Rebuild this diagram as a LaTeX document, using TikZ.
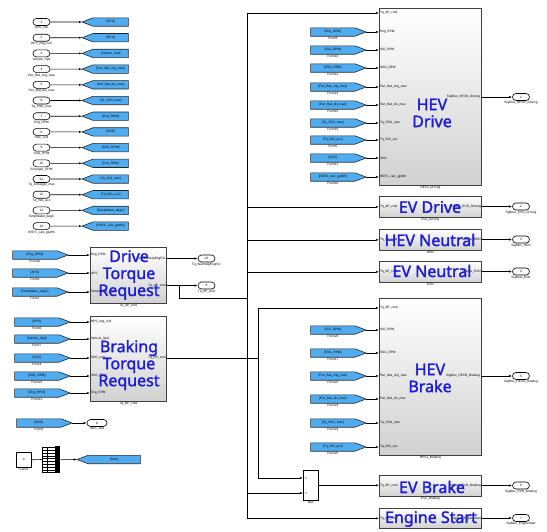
\documentclass[tikz,border=0pt]{standalone}
\usepackage{fontspec}
\setsansfont{Liberation Sans}
\newfontfamily\bigfont[FakeBold=1.6]{Noto Sans}
\usetikzlibrary{shapes.misc,arrows.meta}
\pgfdeclarelayer{background}
\pgfsetlayers{background,main}
\definecolor{tagblue}{RGB}{80,172,240}
\definecolor{lblblue}{RGB}{28,28,215}
\tikzset{
 tinytxt/.style={font=\sffamily\fontsize{3.2}{3.6}\selectfont},
 port/.style={rounded rectangle, draw=black, fill=white, line width=0.6pt, minimum width=17pt, minimum height=7pt, inner sep=0pt, tinytxt},
 tagbody/.style={rectangle, inner sep=0pt, minimum height=8pt, minimum width=44pt, tinytxt},
 tagdraw/.style={draw=black!85, fill=tagblue, line width=0.6pt, line join=miter},
 sub/.style={draw=black!75, line width=0.8pt, top color=white, bottom color=black!18, inner sep=0pt},
 sig/.style={line width=0.6pt, -{Latex[length=3pt,width=2.2pt]}},
 wire/.style={line width=0.6pt},
 biglbl/.style={font=\bigfont\fontsize{16}{17}\selectfont, text=lblblue, align=center},
 undertxt/.style={tinytxt, below, inner sep=0.6pt},
 plbl/.style={tinytxt, anchor=west, inner sep=0.8pt},
 prlbl/.style={tinytxt, anchor=east, inner sep=0.8pt},
}
% outline of a From tag (tip to the right) and a Goto tag (tip to the left)
\newcommand\fromtagshape[1]{\begin{pgfonlayer}{background}\draw[tagdraw] (#1.north west) -- (#1.north east) -- ([xshift=11pt]#1.east) -- (#1.south east) -- (#1.south west) -- cycle;\end{pgfonlayer}}
\newcommand\gototagshape[1]{\begin{pgfonlayer}{background}\draw[tagdraw] (#1.north east) -- (#1.north west) -- ([xshift=-11pt]#1.west) -- (#1.south west) -- (#1.south east) -- cycle;\end{pgfonlayer}}
\begin{document}
\begin{tikzpicture}[x=1pt,y=-1pt]
\useasboundingbox (0,0) rectangle (547,531);

% ---------- left column: inports to goto tags
\foreach \i/\nm/\tg in {1/APS\_null/[APS], 2/BPS\_neg\_null/[BPS], 3/Vehicle\_Spd/[Vehicle\_Spd], 4/Pwr\_Bat\_chg\_max/[Pwr\_Bat\_chg\_max], 5/Pwr\_Bat\_dis\_max/[Pwr\_Bat\_dis\_max], 6/Tq\_SSG\_max/[Tq\_SSG\_max], 7/Eng\_RPM/[Eng\_RPM], 8/SOC\_null/[SOC], 9/SSG\_RPM/[SSG\_RPM], 10/Echarger\_RPM/[ISG\_RPM], 11/Tq\_Echarger\_max/[Tq\_ISG\_max], 12/Tq\_ISG\_acc/[Tq\_ISG\_acc], 13/TempWater\_degC/[TempWater\_degC], 14/BSFC\_calc\_gpWh/[BSFC\_calc\_gpWh]} {
  \pgfmathsetmacro\yy{22+(\i-1)*15.7}
  \node[port] (in\i) at (41.5,\yy) {\i};
  \node[undertxt] at (in\i.south) {\nm};
  \node[tagbody, minimum width=35pt, anchor=west] (gt\i) at (93,\yy) {\tg};
  \gototagshape{gt\i}
  \draw[sig] (in\i) -- ([xshift=-11pt]gt\i.west);
}

% ---------- Drive Torque Request
\node[sub, minimum width=76pt, minimum height=56pt, anchor=north west] (dtr) at (90,247) {};
\node[undertxt] at (dtr.south) {Tq\_dP\_cmd};
\foreach \yy/\pl/\tg/\fn [count=\k] in {255/Eng\_RPM/[Eng\_RPM]/From20, 273/APS/[APS]/From9, 292/TempWater\_degC/[TempWater\_degC]/From1} {
  \node[tagbody, anchor=east] (fd\k) at (57,\yy) {\tg};
  \fromtagshape{fd\k}
  \node[undertxt] at (fd\k.south) {\fn};
  \draw[sig] ([xshift=11pt]fd\k.east) -- (fd\k -| dtr.west);
  \node[plbl] at (fd\k -| dtr.west) {\pl};
}
\node[port] (o10) at (206.5,258.5) {10};
\node[undertxt] at (o10.south) {Tq\_WarmUpEngFric};
\node[port] (o9) at (206.5,285.5) {9};
\node[undertxt] at (o9.south) {Tq\_dP\_cmd};
\node[prlbl] at (o10 -| dtr.east) {Tq\_WarmUpEngFric};
\node[prlbl] at (o9 -| dtr.east) {Tq\_dP\_cmd};
\draw[sig] (o10 -| dtr.east) -- (o10);
\draw[sig] (o9 -| dtr.east) -- (o9);
\coordinate (j1) at (179,285.5);
\coordinate (busTop) at (247,13);
\draw[wire] (j1) |- (busTop |- 0,298);

% ---------- Braking Torque Request
\node[sub, minimum width=76pt, minimum height=85pt, anchor=north west] (btr) at (90,316) {};
\node[undertxt] at (btr.south) {Tq\_BP\_cmd};
\foreach \yy/\pl/\tg/\fn [count=\k] in {322/BPS\_neg\_null/[BPS]/From6, 339/Vehicle\_Spd/[Vehicle\_Spd]/From7, 358/SOC\_null/[SOC]/From4, 376/SSG\_RPM/[SSG\_RPM]/From21, 393/Eng\_RPM/[Eng\_RPM]/From13} {
  \node[tagbody, anchor=east] (fb\k) at (59,\yy) {\tg};
  \fromtagshape{fb\k}
  \node[undertxt] at (fb\k.south) {\fn};
  \draw[sig] ([xshift=11pt]fb\k.east) -- (fb\k -| btr.west);
  \node[plbl] at (fb\k -| btr.west) {\pl};
}
\coordinate (bj) at (258,358);
\node[prlbl] at (bj -| btr.east) {Tq\_BP\_cmd};
\draw[wire] (bj -| btr.east) -- (bj);

% ---------- SOC out and Const / Mux
\node[tagbody, anchor=east] (fsoc) at (61,423) {[SOC]};
\fromtagshape{fsoc}
\node[undertxt] at (fsoc.south) {From3};
\node[port, minimum width=20pt] (o8) at (97,423) {8};
\node[undertxt] at (o8.south) {SOC\_Out};
\draw[sig] ([xshift=11pt]fsoc.east) -- (o8);

\node[draw, fill=white, line width=0.6pt, minimum size=15pt, inner sep=0pt, anchor=north west, tinytxt] (const) at (16,452) {0};
\node[undertxt] at (const.south) {Const};
\node[fill=black, minimum width=5pt, minimum height=27pt, inner sep=0pt, anchor=north west] (cbus) at (55,446) {};
\foreach \k in {0,...,9} \draw[line width=0.5pt] (42,447.5+\k*2.8) -- (55,447.5+\k*2.8);
\draw[line width=0.5pt] (42,447) -- (42,473) (47,447) -- (47,473);
\coordinate (combL) at (42,459.5);
\draw[wire] (const.east) -- (combL);
\node[tagbody, minimum width=52pt, anchor=west] (gtmux) at (88,459.5) {[Mux]};
\gototagshape{gtmux}
\draw[sig] (cbus) -- ([xshift=-11pt]gtmux.west);

% ---------- right-hand subsystems
\node[sub, minimum width=102pt, minimum height=177pt, anchor=north west] (hevd) at (379,8) {};
\node[undertxt] at (hevd.south) {HEVs\_Driving};
\node[sub, minimum width=102pt, minimum height=21pt, anchor=north west] (evd) at (379,196) {};
\node[undertxt] at (evd.south) {EVs\_Driving};
\node[sub, minimum width=102pt, minimum height=21pt, anchor=north west] (hevn) at (379,229) {};
\node[undertxt] at (hevn.south) {HEN};
\node[sub, minimum width=102pt, minimum height=21pt, anchor=north west] (evn) at (379,261) {};
\node[undertxt] at (evn.south) {EVN};
\node[sub, minimum width=102pt, minimum height=157pt, anchor=north west] (hevb) at (379,298) {};
\node[undertxt] at (hevb.south) {HEVs\_Braking};
\node[sub, minimum width=102pt, minimum height=21pt, anchor=north west] (evb) at (379,475) {};
\node[undertxt] at (evb.south) {EVs\_Braking};
\node[sub, minimum width=102pt, minimum height=20pt, anchor=north west] (es) at (379,508) {};

% HEV Drive inputs
\node[plbl] at (busTop -| hevd.west) {Tq\_dP\_cmd};
\foreach \yy/\pl/\tg/\fn [count=\k] in {32/Eng\_RPM/[Eng\_RPM]/From8, 50/ISG\_RPM/[ISG\_RPM]/From10, 68/SSG\_RPM/[SSG\_RPM]/From12, 87/Pwr\_Bat\_chg\_max/[Pwr\_Bat\_chg\_max]/From14, 105/Pwr\_Bat\_dis\_max/[Pwr\_Bat\_dis\_max]/From15, 123/Tq\_SSG\_max/[Tq\_SSG\_max]/From16, 140/Tq\_ISG\_acc/[Tq\_ISG\_acc]/From5, 158/SOC/[SOC]/From11, 177/BSFC\_calc\_gpWh/[BSFC\_calc\_gpWh]/From18} {
  \node[tagbody, anchor=east] (fh\k) at (355,\yy) {\tg};
  \fromtagshape{fh\k}
  \node[undertxt] at (fh\k.south) {\fn};
  \draw[sig] ([xshift=11pt]fh\k.east) -- (fh\k -| hevd.west);
  \node[plbl] at (fh\k -| hevd.west) {\pl};
}
% HEV Brake inputs
\coordinate (hb1) at (379,308);
\node[plbl] at (hb1) {Tq\_BP\_cmd};
\foreach \yy/\pl/\tg/\fn [count=\k] in {330/ISG\_RPM/[ISG\_RPM]/From20, 353/SSG\_RPM/[SSG\_RPM]/From17, 376/Pwr\_Bat\_chg\_max/[Pwr\_Bat\_chg\_max]/From22, 399/Pwr\_Bat\_dis\_max/[Pwr\_Bat\_dis\_max]/From23, 423/Tq\_SSG\_max/[Tq\_SSG\_max]/From24, 447/Tq\_ISG\_acc/[Tq\_ISG\_acc]/From25} {
  \node[tagbody, anchor=east] (fr\k) at (355,\yy) {\tg};
  \fromtagshape{fr\k}
  \node[undertxt] at (fr\k.south) {\fn};
  \draw[sig] ([xshift=11pt]fr\k.east) -- (fr\k -| hevb.west);
  \node[plbl] at (fr\k -| hevb.west) {\pl};
}

% main bus from Tq_dP_cmd
\draw[sig] (busTop |- es.west) -- (busTop) -- (busTop -| hevd.west);
\draw[sig] (busTop |- es.west) -- (es.west);
\draw[sig] (busTop |- evd.west) -- (evd.west);
\draw[sig] (busTop |- hevn.west) -- (hevn.west);
\draw[sig] (busTop |- evn.west) -- (evn.west);

% Mux
\node[draw, fill=white, line width=0.6pt, minimum width=15pt, minimum height=30pt, inner sep=0pt, anchor=north west] (mux) at (303,470) {};
\node[undertxt] at (mux.south) {Mux};
\coordinate (mi1) at (303,478);
\coordinate (mi2) at (303,493);
\fill (306,478) circle (0.6) (306,493) circle (0.6);
\draw[sig] (busTop |- mi2) -- (mi2);
\draw[sig] (bj) |- (hb1);
\draw[sig] (bj) |- (mi1);
\draw[sig] (mux.east) -- (mux.east -| evb.west);

% small port labels inside single-row blocks
\node[plbl] at (evd.west) {Tq\_dP\_cmd};
\node[prlbl] at (evd.east) {SigMux\_EVD\_Driving};
\node[plbl] at (hevn.west) {Tq\_dP\_cmd};
\node[prlbl] at (hevn.east) {SigMux\_HEN};
\node[plbl] at (evn.west) {Tq\_dP\_cmd};
\node[prlbl] at (evn.east) {SigMux\_EVN};
\node[plbl] at (evb.west) {Tq\_BP\_cmd};
\node[prlbl] at (evb.east) {SigMux\_EVD\_Braking};
\node[plbl] at (es.west) {Tq\_dP\_cmd};
\node[prlbl] at (es.east) {SigMux\_EngineStart};

% outports on the right
\coordinate (hdo) at (481,97);
\coordinate (hbo) at (481,376);
\node[prlbl] at (hdo) {SigMux\_HEVD\_Driving};
\node[prlbl] at (hbo) {SigMux\_HEVD\_Braking};
\node[port] (r1) at (521,97) {1};
\node[port] (r2) at (521,206.5) {2};
\node[port] (r3) at (521,239.5) {3};
\node[port] (r4) at (521,271.5) {4};
\node[port] (r5) at (521,376) {5};
\node[port] (r6) at (521,485.5) {6};
\node[port] (r7) at (521,518) {7};
\node[undertxt] at (r1.south) {SigMux\_HEVD\_Driving};
\node[undertxt] at (r2.south) {SigMux\_EVD\_Driving};
\node[undertxt] at (r3.south) {SigMux\_HEN};
\node[undertxt] at (r4.south) {SigMux\_EVN};
\node[undertxt] at (r5.south) {SigMux\_HEVD\_Braking};
\node[undertxt] at (r6.south) {SigMux\_EVD\_Braking};
\node[undertxt] at (r7.south) {SigMux\_EngineStart};
\draw[sig] (hdo) -- (r1);
\draw[sig] (r2 -| evd.east) -- (r2);
\draw[sig] (r3 -| hevn.east) -- (r3);
\draw[sig] (r4 -| evn.east) -- (r4);
\draw[sig] (hbo) -- (r5);
\draw[sig] (r6 -| evb.east) -- (r6);
\draw[sig] (r7 -| es.east) -- (r7);

% big blue labels
\node[biglbl] at (129,275) {Drive\\Torque\\Request};
\node[biglbl] at (129,365) {Braking\\Torque\\Request};
\node[biglbl] at (432,113) {HEV\\Drive};
\node[biglbl] at (430,207) {EV Drive};
\node[biglbl] at (430,240) {HEV Neutral};
\node[biglbl] at (432,271) {EV Neutral};
\node[biglbl] at (430,378) {HEV\\Brake};
\node[biglbl] at (432,487) {EV Brake};
\node[biglbl] at (431,519) {Engine Start};
\end{tikzpicture}
\end{document}
